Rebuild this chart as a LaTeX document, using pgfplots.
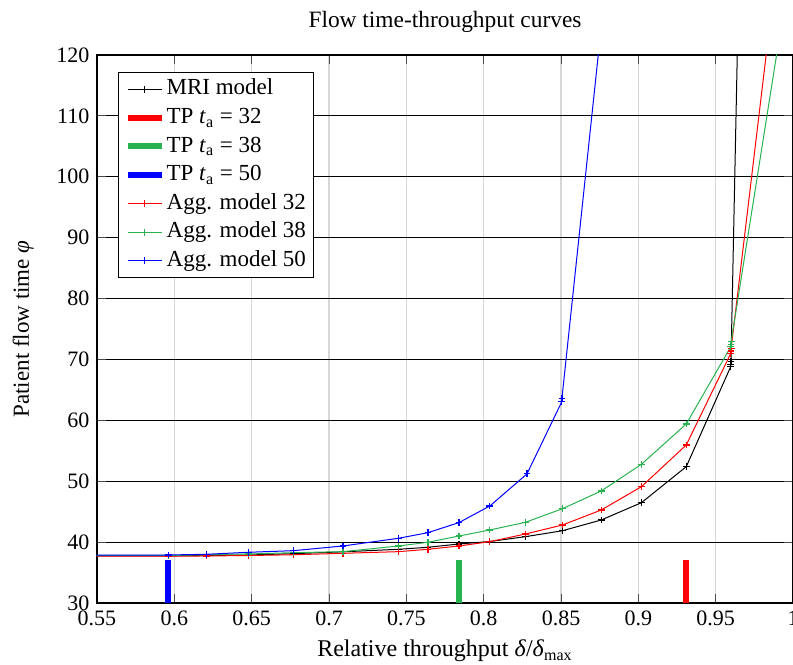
\documentclass[border=0pt]{standalone}
\usepackage{fontspec}
\setmainfont{Liberation Serif}
\usepackage{pgfplots}
\pgfplotsset{compat=1.18}
\definecolor{tpgreen}{RGB}{40,178,80}
\definecolor{gridgray}{RGB}{215,215,215}
\begin{document}
\fontsize{11}{13}\selectfont
\begin{tikzpicture}
\begin{axis}[
  scale only axis,
  width=348pt, height=274pt,
  xmin=0.55, xmax=1, ymin=30, ymax=120,
  xtick={0.55,0.6,...,1.0},
  ytick={30,40,...,120},
  /pgf/number format/assume math mode=true,
  ticklabel style={font=\fontsize{11}{13}\selectfont},
  xticklabels={0.55,0.6,0.65,0.7,0.75,0.8,0.85,0.9,0.95,1},
  tick align=inside,
  major tick style={black!70, thin},
  x grid style={gridgray, line width=0.8pt},
  y grid style={black, line width=0.5pt},
  xmajorgrids, ymajorgrids,
  axis line style={black, line width=0.6pt},
  title={Flow time-throughput curves},
  title style={at={(0.5,1)}, anchor=base, yshift=7.5pt, font=\fontsize{11.7}{13}\selectfont},
  xlabel={Relative throughput \textit{δ}/\textit{δ}\textsubscript{max}},
  xlabel style={at={(0.5,0)}, anchor=base, yshift=-27pt, font=\fontsize{12}{13}\selectfont},
  ylabel={Patient flow time \textit{φ}},
  ylabel style={at={(0,0.5)}, anchor=base, yshift=34pt, font=\fontsize{11.5}{13}\selectfont},
  legend style={at={(0.0302,0.969)}, anchor=north west, draw=black, line width=0.5pt,
    font=\fontsize{11.5}{13}\selectfont, inner xsep=3pt, inner ysep=2pt,
    nodes={inner sep=1pt, text height=8.2pt, text depth=2.6pt}, row sep=1.5pt},
  legend cell align=left,
  every axis plot/.append style={line width=0.5pt},
  mark options={solid, line width=0.6pt},
]
% MRI model
\addplot[black, mark=+, mark size=1.7pt] coordinates {
(0.52,37.75) (0.596,37.75) (0.621,37.78) (0.648,37.88) (0.677,38.1) (0.709,38.4)
(0.745,38.82) (0.764,39.15) (0.784,39.69) (0.804,40.1) (0.827,40.89) (0.851,41.87)
(0.876,43.63) (0.902,46.47) (0.931,52.39) (0.9597,68.8) (0.9598,69.2) (0.9599,69.6) (0.9655,139)};
\addlegendentry{MRI model}
% TP bars
\addplot[red, line width=3pt] coordinates {(0.9307,30) (0.9307,37)};
\addlegendentry{TP \textit{t}\textsubscript{a} = 32}
\addplot[tpgreen, line width=3pt] coordinates {(0.7839,30) (0.7839,37)};
\addlegendentry{TP \textit{t}\textsubscript{a} = 38}
\addplot[blue, line width=3pt] coordinates {(0.5961,30) (0.5961,37)};
\addlegendentry{TP \textit{t}\textsubscript{a} = 50}
% Agg models
\addplot[red, mark=+, mark size=1.7pt] coordinates {
(0.52,37.7) (0.596,37.7) (0.621,37.72) (0.648,37.8) (0.677,37.92) (0.709,38.16)
(0.745,38.43) (0.764,38.82) (0.784,39.36) (0.804,40.07) (0.827,41.33) (0.851,42.81)
(0.876,45.27) (0.902,49.1) (0.931,55.95) (0.9598,71.0) (0.9599,71.4) (0.96,71.8) (0.985,125)};
\addlegendentry{Agg. model 32}
\addplot[tpgreen, mark=+, mark size=1.7pt] coordinates {
(0.52,37.8) (0.596,37.8) (0.621,37.93) (0.648,38.05) (0.677,38.26) (0.709,38.43)
(0.745,39.36) (0.764,39.97) (0.784,41.0) (0.804,41.99) (0.827,43.25) (0.851,45.49)
(0.876,48.39) (0.902,52.78) (0.931,59.4) (0.9598,72.1) (0.9599,72.5) (0.96,72.9) (0.99,121)};
\addlegendentry{Agg. model 38}
\addplot[blue, mark=+, mark size=1.7pt] coordinates {
(0.52,37.85) (0.596,37.88) (0.621,38.0) (0.648,38.33) (0.677,38.59) (0.709,39.36)
(0.745,40.63) (0.764,41.55) (0.784,43.2) (0.804,45.93) (0.828,51.2) (0.8505,63.05)
(0.8506,63.6) (0.877,127)};
\addlegendentry{Agg. model 50}
\end{axis}
\pgfresetboundingbox
\path (current axis.south west) ++(-48.5pt,-31pt) coordinate (bbsw);
\path (current axis.north east) ++(0pt,27.5pt) coordinate (bbne);
\path[use as bounding box] (bbsw) rectangle (bbne);
\end{tikzpicture}
\end{document}
